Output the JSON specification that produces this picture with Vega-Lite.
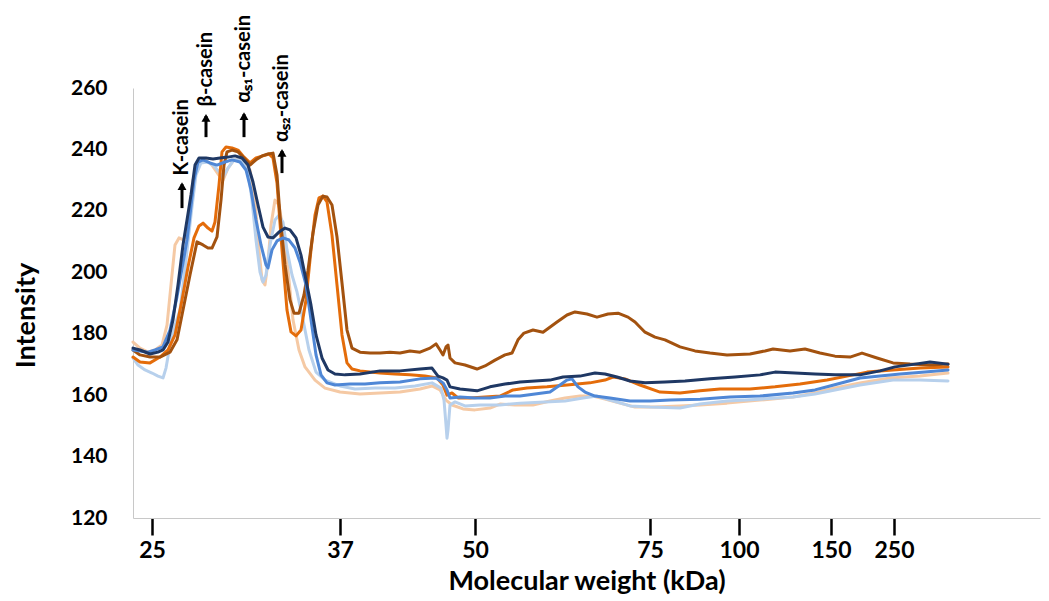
{
"$schema": "https://vega.github.io/schema/vega-lite/v6.json",
"width": 907, "height": 430,
"autosize": {"type": "none"},
"padding": {"left": 133, "top": 88, "right": 9, "bottom": 83},
"background": "white",
"config": {"view": {"stroke": null}, "font": "Lato"},
"datasets": {
"traces": [
{"lane":"L1","x":0,"y":177.3},{"lane":"L1","x":7,"y":175.3},{"lane":"L1","x":15,"y":174.0},{"lane":"L1","x":22,"y":174.7},{"lane":"L1","x":29,"y":176.3},{"lane":"L1","x":34,"y":182.8},{"lane":"L1","x":38,"y":195.9},{"lane":"L1","x":42,"y":208.9},{"lane":"L1","x":46,"y":211.2},{"lane":"L1","x":51,"y":210.5},{"lane":"L1","x":55,"y":217.0},{"lane":"L1","x":60,"y":230.0},{"lane":"L1","x":65,"y":235.6},{"lane":"L1","x":72,"y":236.6},{"lane":"L1","x":79,"y":234.9},{"lane":"L1","x":85,"y":232.0},{"lane":"L1","x":90,"y":230.0},{"lane":"L1","x":95,"y":233.9},{"lane":"L1","x":101,"y":236.6},{"lane":"L1","x":109,"y":237.2},{"lane":"L1","x":117,"y":233.3},{"lane":"L1","x":122,"y":223.5},{"lane":"L1","x":126,"y":207.3},{"lane":"L1","x":129,"y":197.5},{"lane":"L1","x":132,"y":195.9},{"lane":"L1","x":135,"y":203.3},{"lane":"L1","x":138,"y":215.4},{"lane":"L1","x":142,"y":223.5},{"lane":"L1","x":146,"y":221.9},{"lane":"L1","x":150,"y":213.8},{"lane":"L1","x":155,"y":200.7},{"lane":"L1","x":160,"y":184.5},{"lane":"L1","x":166,"y":174.7},{"lane":"L1","x":172,"y":169.2},{"lane":"L1","x":182,"y":164.9},{"lane":"L1","x":192,"y":162.3},{"lane":"L1","x":207,"y":161.0},{"lane":"L1","x":227,"y":160.4},{"lane":"L1","x":247,"y":160.7},{"lane":"L1","x":267,"y":161.0},{"lane":"L1","x":287,"y":162.0},{"lane":"L1","x":299,"y":163.0},{"lane":"L1","x":307,"y":161.7},{"lane":"L1","x":313,"y":158.4},{"lane":"L1","x":319,"y":156.8},{"lane":"L1","x":330,"y":155.5},{"lane":"L1","x":342,"y":155.2},{"lane":"L1","x":357,"y":155.8},{"lane":"L1","x":367,"y":157.1},{"lane":"L1","x":382,"y":156.8},{"lane":"L1","x":400,"y":156.8},{"lane":"L1","x":417,"y":158.1},{"lane":"L1","x":432,"y":159.1},{"lane":"L1","x":447,"y":159.7},{"lane":"L1","x":460,"y":159.7},{"lane":"L1","x":472,"y":158.7},{"lane":"L1","x":487,"y":157.4},{"lane":"L1","x":502,"y":156.1},{"lane":"L1","x":522,"y":156.1},{"lane":"L1","x":547,"y":156.5},{"lane":"L1","x":567,"y":156.8},{"lane":"L1","x":594,"y":157.4},{"lane":"L1","x":627,"y":158.4},{"lane":"L1","x":660,"y":159.4},{"lane":"L1","x":682,"y":160.7},{"lane":"L1","x":702,"y":162.3},{"lane":"L1","x":727,"y":164.0},{"lane":"L1","x":757,"y":165.6},{"lane":"L1","x":787,"y":166.2},{"lane":"L1","x":815,"y":167.2},
{"lane":"L2","x":0,"y":172.1},{"lane":"L2","x":5,"y":169.8},{"lane":"L2","x":12,"y":168.2},{"lane":"L2","x":19,"y":167.2},{"lane":"L2","x":25,"y":166.2},{"lane":"L2","x":30,"y":165.6},{"lane":"L2","x":33,"y":168.8},{"lane":"L2","x":37,"y":176.3},{"lane":"L2","x":42,"y":182.8},{"lane":"L2","x":47,"y":187.7},{"lane":"L2","x":53,"y":204.0},{"lane":"L2","x":58,"y":218.6},{"lane":"L2","x":63,"y":231.7},{"lane":"L2","x":68,"y":235.6},{"lane":"L2","x":75,"y":235.9},{"lane":"L2","x":81,"y":234.6},{"lane":"L2","x":86,"y":232.7},{"lane":"L2","x":90,"y":231.0},{"lane":"L2","x":95,"y":233.9},{"lane":"L2","x":101,"y":236.6},{"lane":"L2","x":108,"y":236.6},{"lane":"L2","x":115,"y":232.7},{"lane":"L2","x":119,"y":223.5},{"lane":"L2","x":123,"y":210.5},{"lane":"L2","x":127,"y":200.1},{"lane":"L2","x":130,"y":196.8},{"lane":"L2","x":133,"y":199.1},{"lane":"L2","x":137,"y":208.9},{"lane":"L2","x":142,"y":217.0},{"lane":"L2","x":146,"y":218.6},{"lane":"L2","x":150,"y":216.3},{"lane":"L2","x":154,"y":207.3},{"lane":"L2","x":159,"y":199.1},{"lane":"L2","x":164,"y":193.6},{"lane":"L2","x":170,"y":184.5},{"lane":"L2","x":176,"y":174.7},{"lane":"L2","x":183,"y":167.5},{"lane":"L2","x":192,"y":164.9},{"lane":"L2","x":207,"y":163.0},{"lane":"L2","x":222,"y":162.0},{"lane":"L2","x":242,"y":162.3},{"lane":"L2","x":262,"y":162.3},{"lane":"L2","x":282,"y":163.0},{"lane":"L2","x":299,"y":164.0},{"lane":"L2","x":308,"y":162.3},{"lane":"L2","x":311,"y":158.4},{"lane":"L2","x":313,"y":150.3},{"lane":"L2","x":314,"y":146.0},{"lane":"L2","x":315,"y":148.6},{"lane":"L2","x":317,"y":156.8},{"lane":"L2","x":322,"y":157.8},{"lane":"L2","x":332,"y":156.5},{"lane":"L2","x":347,"y":156.8},{"lane":"L2","x":367,"y":156.8},{"lane":"L2","x":387,"y":157.4},{"lane":"L2","x":412,"y":157.8},{"lane":"L2","x":432,"y":158.1},{"lane":"L2","x":450,"y":159.1},{"lane":"L2","x":464,"y":159.7},{"lane":"L2","x":477,"y":158.4},{"lane":"L2","x":497,"y":156.5},{"lane":"L2","x":517,"y":156.1},{"lane":"L2","x":547,"y":155.8},{"lane":"L2","x":567,"y":157.1},{"lane":"L2","x":594,"y":158.1},{"lane":"L2","x":627,"y":158.7},{"lane":"L2","x":660,"y":159.4},{"lane":"L2","x":682,"y":160.4},{"lane":"L2","x":702,"y":161.7},{"lane":"L2","x":727,"y":163.3},{"lane":"L2","x":760,"y":164.9},{"lane":"L2","x":787,"y":164.9},{"lane":"L2","x":815,"y":164.6},
{"lane":"L3","x":0,"y":172.4},{"lane":"L3","x":7,"y":170.8},{"lane":"L3","x":17,"y":170.5},{"lane":"L3","x":27,"y":172.4},{"lane":"L3","x":35,"y":174.7},{"lane":"L3","x":42,"y":179.6},{"lane":"L3","x":49,"y":191.0},{"lane":"L3","x":55,"y":201.7},{"lane":"L3","x":61,"y":211.2},{"lane":"L3","x":66,"y":215.1},{"lane":"L3","x":70,"y":216.0},{"lane":"L3","x":75,"y":214.4},{"lane":"L3","x":79,"y":213.4},{"lane":"L3","x":82,"y":216.4},{"lane":"L3","x":86,"y":228.4},{"lane":"L3","x":89,"y":239.2},{"lane":"L3","x":93,"y":240.8},{"lane":"L3","x":99,"y":240.5},{"lane":"L3","x":105,"y":239.8},{"lane":"L3","x":111,"y":237.5},{"lane":"L3","x":117,"y":235.6},{"lane":"L3","x":123,"y":237.2},{"lane":"L3","x":130,"y":237.9},{"lane":"L3","x":136,"y":238.5},{"lane":"L3","x":140,"y":237.2},{"lane":"L3","x":144,"y":229.1},{"lane":"L3","x":149,"y":207.3},{"lane":"L3","x":154,"y":187.7},{"lane":"L3","x":158,"y":180.6},{"lane":"L3","x":163,"y":179.3},{"lane":"L3","x":168,"y":181.2},{"lane":"L3","x":173,"y":191.0},{"lane":"L3","x":178,"y":207.3},{"lane":"L3","x":182,"y":218.6},{"lane":"L3","x":186,"y":224.2},{"lane":"L3","x":190,"y":224.8},{"lane":"L3","x":194,"y":222.9},{"lane":"L3","x":199,"y":212.1},{"lane":"L3","x":204,"y":195.9},{"lane":"L3","x":209,"y":179.6},{"lane":"L3","x":214,"y":170.5},{"lane":"L3","x":219,"y":168.5},{"lane":"L3","x":227,"y":167.9},{"lane":"L3","x":237,"y":167.5},{"lane":"L3","x":247,"y":167.2},{"lane":"L3","x":262,"y":166.9},{"lane":"L3","x":277,"y":166.6},{"lane":"L3","x":292,"y":166.2},{"lane":"L3","x":304,"y":165.6},{"lane":"L3","x":310,"y":163.3},{"lane":"L3","x":314,"y":160.0},{"lane":"L3","x":319,"y":160.7},{"lane":"L3","x":325,"y":159.1},{"lane":"L3","x":337,"y":159.1},{"lane":"L3","x":352,"y":159.4},{"lane":"L3","x":367,"y":159.7},{"lane":"L3","x":380,"y":161.7},{"lane":"L3","x":394,"y":162.3},{"lane":"L3","x":414,"y":162.7},{"lane":"L3","x":434,"y":163.3},{"lane":"L3","x":457,"y":164.0},{"lane":"L3","x":472,"y":164.9},{"lane":"L3","x":480,"y":165.9},{"lane":"L3","x":492,"y":165.3},{"lane":"L3","x":507,"y":163.3},{"lane":"L3","x":527,"y":161.0},{"lane":"L3","x":547,"y":160.7},{"lane":"L3","x":567,"y":161.4},{"lane":"L3","x":587,"y":162.0},{"lane":"L3","x":617,"y":162.0},{"lane":"L3","x":642,"y":162.7},{"lane":"L3","x":667,"y":163.6},{"lane":"L3","x":694,"y":164.9},{"lane":"L3","x":714,"y":166.2},{"lane":"L3","x":734,"y":167.5},{"lane":"L3","x":760,"y":168.2},{"lane":"L3","x":787,"y":168.8},{"lane":"L3","x":815,"y":169.2},
{"lane":"L4","x":0,"y":174.7},{"lane":"L4","x":7,"y":173.1},{"lane":"L4","x":17,"y":172.4},{"lane":"L4","x":27,"y":172.4},{"lane":"L4","x":37,"y":174.0},{"lane":"L4","x":44,"y":178.0},{"lane":"L4","x":50,"y":187.7},{"lane":"L4","x":57,"y":199.1},{"lane":"L4","x":64,"y":209.9},{"lane":"L4","x":70,"y":208.9},{"lane":"L4","x":75,"y":207.9},{"lane":"L4","x":79,"y":207.9},{"lane":"L4","x":84,"y":211.5},{"lane":"L4","x":88,"y":223.5},{"lane":"L4","x":91,"y":234.9},{"lane":"L4","x":94,"y":239.2},{"lane":"L4","x":99,"y":239.8},{"lane":"L4","x":105,"y":239.2},{"lane":"L4","x":111,"y":237.2},{"lane":"L4","x":117,"y":234.9},{"lane":"L4","x":123,"y":236.6},{"lane":"L4","x":129,"y":237.9},{"lane":"L4","x":135,"y":238.5},{"lane":"L4","x":140,"y":238.8},{"lane":"L4","x":144,"y":231.7},{"lane":"L4","x":147,"y":218.6},{"lane":"L4","x":152,"y":202.4},{"lane":"L4","x":157,"y":191.0},{"lane":"L4","x":161,"y":186.7},{"lane":"L4","x":166,"y":186.7},{"lane":"L4","x":171,"y":192.6},{"lane":"L4","x":175,"y":200.7},{"lane":"L4","x":180,"y":212.8},{"lane":"L4","x":185,"y":221.9},{"lane":"L4","x":190,"y":224.8},{"lane":"L4","x":194,"y":224.5},{"lane":"L4","x":199,"y":221.9},{"lane":"L4","x":204,"y":211.5},{"lane":"L4","x":209,"y":196.5},{"lane":"L4","x":214,"y":181.2},{"lane":"L4","x":219,"y":175.3},{"lane":"L4","x":227,"y":174.0},{"lane":"L4","x":237,"y":173.7},{"lane":"L4","x":247,"y":173.7},{"lane":"L4","x":257,"y":174.0},{"lane":"L4","x":267,"y":173.7},{"lane":"L4","x":277,"y":174.4},{"lane":"L4","x":287,"y":174.0},{"lane":"L4","x":297,"y":175.3},{"lane":"L4","x":303,"y":176.7},{"lane":"L4","x":307,"y":174.7},{"lane":"L4","x":310,"y":173.1},{"lane":"L4","x":313,"y":175.7},{"lane":"L4","x":315,"y":176.3},{"lane":"L4","x":317,"y":172.1},{"lane":"L4","x":322,"y":170.5},{"lane":"L4","x":332,"y":169.8},{"lane":"L4","x":344,"y":168.5},{"lane":"L4","x":352,"y":169.5},{"lane":"L4","x":362,"y":171.4},{"lane":"L4","x":372,"y":173.1},{"lane":"L4","x":379,"y":173.7},{"lane":"L4","x":385,"y":178.0},{"lane":"L4","x":391,"y":180.2},{"lane":"L4","x":400,"y":181.2},{"lane":"L4","x":410,"y":180.5},{"lane":"L4","x":424,"y":183.8},{"lane":"L4","x":434,"y":186.1},{"lane":"L4","x":442,"y":187.1},{"lane":"L4","x":454,"y":186.4},{"lane":"L4","x":464,"y":185.4},{"lane":"L4","x":475,"y":186.4},{"lane":"L4","x":485,"y":186.7},{"lane":"L4","x":495,"y":185.4},{"lane":"L4","x":502,"y":183.8},{"lane":"L4","x":512,"y":180.5},{"lane":"L4","x":522,"y":178.9},{"lane":"L4","x":532,"y":178.0},{"lane":"L4","x":547,"y":175.7},{"lane":"L4","x":562,"y":174.4},{"lane":"L4","x":577,"y":173.7},{"lane":"L4","x":594,"y":173.1},{"lane":"L4","x":617,"y":173.4},{"lane":"L4","x":632,"y":174.4},{"lane":"L4","x":640,"y":175.0},{"lane":"L4","x":657,"y":174.4},{"lane":"L4","x":672,"y":175.0},{"lane":"L4","x":687,"y":173.7},{"lane":"L4","x":702,"y":172.7},{"lane":"L4","x":717,"y":172.4},{"lane":"L4","x":729,"y":173.7},{"lane":"L4","x":744,"y":172.1},{"lane":"L4","x":760,"y":170.5},{"lane":"L4","x":777,"y":170.1},{"lane":"L4","x":797,"y":169.8},{"lane":"L4","x":815,"y":170.1},
{"lane":"L5","x":0,"y":174.7},{"lane":"L5","x":7,"y":174.4},{"lane":"L5","x":15,"y":174.0},{"lane":"L5","x":22,"y":174.7},{"lane":"L5","x":30,"y":175.7},{"lane":"L5","x":37,"y":181.2},{"lane":"L5","x":44,"y":192.0},{"lane":"L5","x":50,"y":203.0},{"lane":"L5","x":54,"y":210.5},{"lane":"L5","x":57,"y":218.6},{"lane":"L5","x":61,"y":230.0},{"lane":"L5","x":65,"y":235.9},{"lane":"L5","x":70,"y":236.6},{"lane":"L5","x":77,"y":235.6},{"lane":"L5","x":84,"y":234.9},{"lane":"L5","x":92,"y":235.9},{"lane":"L5","x":99,"y":236.6},{"lane":"L5","x":107,"y":235.9},{"lane":"L5","x":113,"y":233.3},{"lane":"L5","x":118,"y":226.8},{"lane":"L5","x":123,"y":217.0},{"lane":"L5","x":128,"y":208.9},{"lane":"L5","x":133,"y":202.4},{"lane":"L5","x":135,"y":201.4},{"lane":"L5","x":139,"y":207.3},{"lane":"L5","x":144,"y":210.2},{"lane":"L5","x":150,"y":211.2},{"lane":"L5","x":156,"y":210.5},{"lane":"L5","x":162,"y":207.9},{"lane":"L5","x":167,"y":203.3},{"lane":"L5","x":173,"y":195.9},{"lane":"L5","x":178,"y":184.5},{"lane":"L5","x":183,"y":173.1},{"lane":"L5","x":188,"y":166.6},{"lane":"L5","x":194,"y":164.0},{"lane":"L5","x":202,"y":163.3},{"lane":"L5","x":217,"y":163.6},{"lane":"L5","x":232,"y":163.6},{"lane":"L5","x":247,"y":164.0},{"lane":"L5","x":267,"y":164.3},{"lane":"L5","x":287,"y":165.3},{"lane":"L5","x":303,"y":165.6},{"lane":"L5","x":310,"y":164.0},{"lane":"L5","x":314,"y":161.7},{"lane":"L5","x":317,"y":159.1},{"lane":"L5","x":327,"y":159.4},{"lane":"L5","x":342,"y":159.1},{"lane":"L5","x":357,"y":159.1},{"lane":"L5","x":372,"y":159.7},{"lane":"L5","x":387,"y":159.7},{"lane":"L5","x":402,"y":160.4},{"lane":"L5","x":417,"y":161.0},{"lane":"L5","x":427,"y":163.3},{"lane":"L5","x":434,"y":164.9},{"lane":"L5","x":439,"y":165.3},{"lane":"L5","x":445,"y":162.7},{"lane":"L5","x":452,"y":161.0},{"lane":"L5","x":462,"y":159.7},{"lane":"L5","x":477,"y":159.1},{"lane":"L5","x":497,"y":158.1},{"lane":"L5","x":517,"y":158.1},{"lane":"L5","x":537,"y":158.4},{"lane":"L5","x":567,"y":158.7},{"lane":"L5","x":597,"y":159.4},{"lane":"L5","x":627,"y":159.7},{"lane":"L5","x":660,"y":160.7},{"lane":"L5","x":682,"y":161.7},{"lane":"L5","x":697,"y":163.0},{"lane":"L5","x":712,"y":164.3},{"lane":"L5","x":727,"y":165.6},{"lane":"L5","x":747,"y":166.2},{"lane":"L5","x":767,"y":166.9},{"lane":"L5","x":792,"y":167.5},{"lane":"L5","x":815,"y":168.2},
{"lane":"L6","x":0,"y":175.3},{"lane":"L6","x":7,"y":174.7},{"lane":"L6","x":17,"y":173.4},{"lane":"L6","x":25,"y":174.0},{"lane":"L6","x":30,"y":174.7},{"lane":"L6","x":35,"y":177.3},{"lane":"L6","x":40,"y":184.5},{"lane":"L6","x":45,"y":195.9},{"lane":"L6","x":50,"y":208.9},{"lane":"L6","x":54,"y":217.0},{"lane":"L6","x":58,"y":225.2},{"lane":"L6","x":62,"y":234.9},{"lane":"L6","x":66,"y":237.2},{"lane":"L6","x":73,"y":237.2},{"lane":"L6","x":80,"y":236.9},{"lane":"L6","x":87,"y":237.2},{"lane":"L6","x":95,"y":237.5},{"lane":"L6","x":102,"y":237.9},{"lane":"L6","x":109,"y":237.2},{"lane":"L6","x":115,"y":234.9},{"lane":"L6","x":120,"y":229.4},{"lane":"L6","x":125,"y":221.9},{"lane":"L6","x":130,"y":214.7},{"lane":"L6","x":135,"y":211.5},{"lane":"L6","x":140,"y":211.2},{"lane":"L6","x":146,"y":213.1},{"lane":"L6","x":152,"y":214.4},{"lane":"L6","x":157,"y":213.8},{"lane":"L6","x":163,"y":211.2},{"lane":"L6","x":168,"y":205.6},{"lane":"L6","x":173,"y":197.5},{"lane":"L6","x":178,"y":189.3},{"lane":"L6","x":183,"y":179.6},{"lane":"L6","x":189,"y":172.1},{"lane":"L6","x":195,"y":168.2},{"lane":"L6","x":202,"y":166.9},{"lane":"L6","x":212,"y":166.6},{"lane":"L6","x":227,"y":166.9},{"lane":"L6","x":247,"y":167.9},{"lane":"L6","x":267,"y":167.9},{"lane":"L6","x":287,"y":168.5},{"lane":"L6","x":299,"y":168.8},{"lane":"L6","x":305,"y":166.2},{"lane":"L6","x":310,"y":165.6},{"lane":"L6","x":314,"y":164.9},{"lane":"L6","x":317,"y":162.7},{"lane":"L6","x":327,"y":162.0},{"lane":"L6","x":344,"y":161.4},{"lane":"L6","x":357,"y":162.7},{"lane":"L6","x":372,"y":163.6},{"lane":"L6","x":387,"y":164.3},{"lane":"L6","x":402,"y":164.6},{"lane":"L6","x":417,"y":164.9},{"lane":"L6","x":430,"y":165.9},{"lane":"L6","x":447,"y":166.2},{"lane":"L6","x":462,"y":167.2},{"lane":"L6","x":472,"y":166.9},{"lane":"L6","x":484,"y":165.9},{"lane":"L6","x":497,"y":164.6},{"lane":"L6","x":512,"y":164.0},{"lane":"L6","x":532,"y":164.3},{"lane":"L6","x":552,"y":164.6},{"lane":"L6","x":577,"y":165.3},{"lane":"L6","x":602,"y":165.9},{"lane":"L6","x":627,"y":166.6},{"lane":"L6","x":642,"y":167.5},{"lane":"L6","x":662,"y":167.2},{"lane":"L6","x":682,"y":166.9},{"lane":"L6","x":702,"y":166.6},{"lane":"L6","x":727,"y":166.6},{"lane":"L6","x":747,"y":167.9},{"lane":"L6","x":762,"y":169.2},{"lane":"L6","x":782,"y":170.1},{"lane":"L6","x":797,"y":170.8},{"lane":"L6","x":815,"y":170.1}
],
"notes": [
{"label":"K-casein","x":49,"base":220.9,"tip":230.0,"textY":231.5},
{"label":"β-casein","x":73,"base":244.0,"tip":252.2,"textY":254.0},
{"label":"αₛ₁-casein","x":111,"base":244.0,"tip":252.8,"textY":255.2},
{"label":"αₛ₂-casein","x":149,"base":232.3,"tip":240.8,"textY":242.4}
]
},
"layer": [
{"data": {"name": "traces"},
 "mark": {"type": "line", "strokeWidth": 3, "strokeJoin": "round", "strokeCap": "round"},
 "encoding": {
  "x": {"field": "x", "type": "quantitative", "scale": {"domain": [0, 907], "nice": false, "zero": false},
   "axis": {"title": "Molecular weight (kDa)", "values": [19, 207, 342, 517, 606, 698, 761],
    "labelExpr": "datum.value == 19 ? '25' : datum.value == 207 ? '37' : datum.value == 342 ? '50' : datum.value == 517 ? '75' : datum.value == 606 ? '100' : datum.value == 698 ? '150' : '250'",
    "grid": false, "domainColor": "#C8C8C8", "domainWidth": 1, "tickColor": "black", "tickWidth": 2.5, "tickSize": 17,
    "labelFontSize": 23, "labelFontWeight": "bold", "labelColor": "black", "labelPadding": 4, "labelFlush": false, "labelOverlap": false,
    "titleFontSize": 27, "titleFontWeight": "bold", "titleColor": "black", "titlePadding": 6}},
  "y": {"field": "y", "type": "quantitative", "scale": {"domain": [120, 260], "nice": false, "zero": false},
   "axis": {"title": "Intensity", "values": [120, 140, 160, 180, 200, 220, 240, 260], "grid": false, "ticks": false,
    "domainColor": "#C8C8C8", "domainWidth": 1,
    "labelFontSize": 21, "labelFontWeight": "bold", "labelColor": "black", "labelPadding": 26, "labelFlush": false, "labelOverlap": false,
    "titleFontSize": 27, "titleFontWeight": "bold", "titleColor": "black", "titlePadding": 30, "titleY": 227}},
  "color": {"field": "lane", "type": "nominal", "legend": null,
   "scale": {"domain": ["L1", "L2", "L3", "L4", "L5", "L6"], "range": ["#F5C9A4", "#B7D0EC", "#E46C0A", "#A3520F", "#4F87D6", "#1F3864"]}},
  "order": {"field": "x", "type": "quantitative"}
 }},
{"data": {"name": "notes"},
 "mark": {"type": "rule", "strokeWidth": 3, "color": "black", "y2Offset": 4},
 "encoding": {"x": {"field": "x", "type": "quantitative", "title": "Molecular weight (kDa)"}, "y": {"field": "base", "type": "quantitative", "title": "Intensity"}, "y2": {"field": "tip"}}},
{"data": {"name": "notes"},
 "mark": {"type": "point", "shape": "triangle-up", "filled": true, "color": "black", "opacity": 1, "size": 80, "yOffset": 6},
 "encoding": {"x": {"field": "x", "type": "quantitative", "title": "Molecular weight (kDa)"}, "y": {"field": "tip", "type": "quantitative", "title": "Intensity"}}},
{"data": {"name": "notes"},
 "mark": {"type": "text", "angle": 270, "align": "left", "baseline": "middle", "fontSize": 20, "fontWeight": "bold", "color": "black"},
 "encoding": {"x": {"field": "x", "type": "quantitative", "title": "Molecular weight (kDa)"}, "y": {"field": "textY", "type": "quantitative", "title": "Intensity"}, "text": {"field": "label"}}}
]
}
